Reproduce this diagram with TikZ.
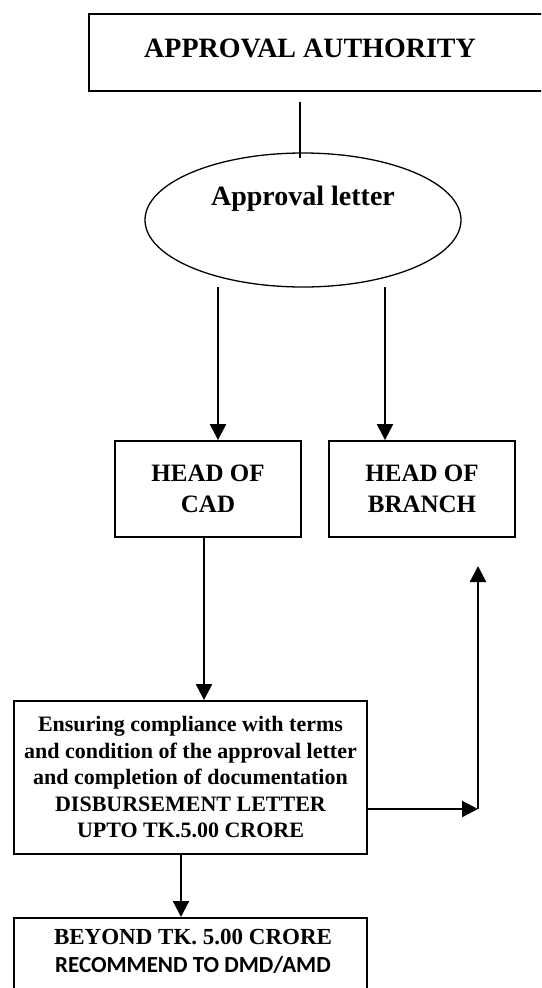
\documentclass[tikz,border=0pt]{standalone}
\usepackage{fontspec}
\setmainfont{Liberation Serif}
\newfontfamily\calfont{Carlito}
\usetikzlibrary{shapes.geometric,arrows.meta,calc}
\tikzset{
  box/.style={draw, line width=1.8pt, rectangle, inner sep=0pt},
  oval/.style={draw, line width=1.3pt, ellipse, inner sep=0pt, minimum width=316pt, minimum height=134pt},
  arr/.style={line width=2.2pt, -{Triangle[length=16pt,width=16pt]}},
  plain/.style={line width=1.5pt},
  txt/.style={font=\bfseries, align=center, inner sep=0pt}
}
\begin{document}
\begin{tikzpicture}[x=1pt,y=-1pt]
\useasboundingbox (0,0) rectangle (541,988);
\clip (0,0) rectangle (541,988);
% top box (extends past right edge)
\node[box, anchor=north west, minimum width=470pt, minimum height=77pt] (auth) at (88,13) {};
\node[txt, font=\bfseries\fontsize{28}{32}\selectfont] (authT) at (310,48) {APPROVAL AUTHORITY};
% ellipse
\node[oval] (appr) at (303,220) {};
\node[txt, font=\bfseries\fontsize{28}{32}\selectfont] (apprT) at (303,199) {Approval letter};
\draw[plain] ([yshift=-10pt]auth.south -| 300,0) -- ($(appr.north)+(-3,6)$);
% head boxes
\node[box, minimum width=186pt, minimum height=96pt, font=\bfseries\fontsize{25}{31}\selectfont, align=center] (cad) at (208,489) {HEAD OF\\CAD};
\node[box, minimum width=186pt, minimum height=96pt, font=\bfseries\fontsize{25}{31}\selectfont, align=center] (branch) at (422,489) {HEAD OF\\BRANCH};
\coordinate (a1) at (218,287);
\coordinate (a2) at (385,287);
\draw[arr] (a1) -- (a1 |- cad.north);
\draw[arr] (a2) -- (a2 |- branch.north);
% ensuring box
\node[box, minimum width=353pt, minimum height=153pt, font=\bfseries\fontsize{22}{26.5}\selectfont, align=center] (ens) at (190.5,777.5)
 {Ensuring compliance with terms\\and condition of the approval letter\\and completion of documentation\\DISBURSEMENT LETTER\\UPTO TK.5.00 CRORE};
\coordinate (c1) at (204,537);
\draw[arr] (c1) -- (c1 |- ens.north);
% right connector
\coordinate (r1) at (367,809);
\coordinate (r2) at (478,809);
\coordinate (r3) at (478,566);
\draw[arr] (r1) -- (r2);
\draw[arr] (r2) -- (r3);
% beyond box
\node[box, anchor=north, minimum width=353pt, minimum height=110pt] (bey) at (190.5,917) {};
\node[txt, font=\bfseries\fontsize{23}{28}\selectfont] (beyT) at (193,937) {BEYOND TK. 5.00 CRORE};
\node[txt, font=\calfont\bfseries\fontsize{23}{28}\selectfont] (beyT2) at (193,965) {RECOMMEND TO DMD/AMD};
\coordinate (d1) at (181,854);
\draw[arr] (d1) -- (d1 |- bey.north);
\end{tikzpicture}
\end{document}
